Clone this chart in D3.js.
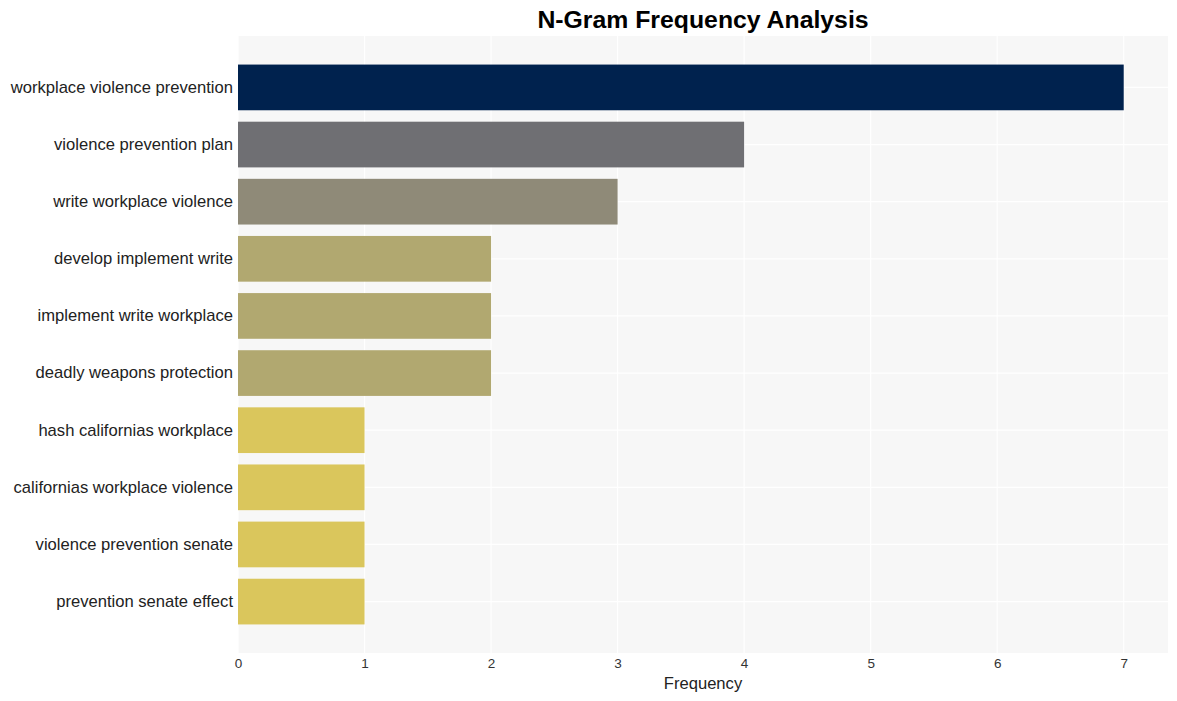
<!DOCTYPE html>
<html><head><meta charset="utf-8">
<script src="https://cdn.jsdelivr.net/npm/d3@7/dist/d3.min.js"></script>
<style>body{margin:0;background:#fff;} text{font-family:"Liberation Sans",Arial,sans-serif;}</style>
</head><body><svg id="c" width="1177" height="701"></svg>
<script>
const categories = ["workplace violence prevention","violence prevention plan","write workplace violence","develop implement write","implement write workplace","deadly weapons protection","hash californias workplace","californias workplace violence","violence prevention senate","prevention senate effect"];
const values = [7,4,3,2,2,2,1,1,1,1];
const xTicks = [0,1,2,3,4,5,6,7];
const colorByValue = {7:"#00224e",4:"#6f6f73",3:"#8f8a78",2:"#b1a870",1:"#dac65c"};

const svg = d3.select("#c");
const m = {left:238, right:1168, top:36, bottom:653};
const x = d3.scaleLinear().domain([0,7.35]).range([m.left,m.right]);
const y = d3.scaleBand().domain(categories).range([m.top,m.bottom]).paddingInner(0.2).paddingOuter(0.5);

svg.append("rect").attr("x",m.left).attr("y",m.top).attr("width",m.right-m.left).attr("height",m.bottom-m.top).attr("fill","#f7f7f7");
svg.append("g").selectAll("line").data(xTicks).join("line")
  .attr("x1",d=>x(d)).attr("x2",d=>x(d)).attr("y1",m.top).attr("y2",m.bottom)
  .attr("stroke","#fff").attr("stroke-width",1.2);
svg.append("g").selectAll("line").data(categories).join("line")
  .attr("y1",d=>y(d)+y.bandwidth()/2).attr("y2",d=>y(d)+y.bandwidth()/2).attr("x1",m.left).attr("x2",m.right)
  .attr("stroke","#fff").attr("stroke-width",1.2);

svg.append("g").selectAll("rect").data(categories).join("rect")
  .attr("x",x(0)).attr("y",d=>y(d)).attr("height",y.bandwidth())
  .attr("width",(d,i)=>x(values[i])-x(0)).attr("fill",(d,i)=>colorByValue[values[i]]);

const xa = svg.append("g").attr("transform",`translate(0,${m.bottom})`)
  .call(d3.axisBottom(x).tickValues(xTicks).tickSize(0).tickPadding(5).tickFormat(d3.format("d")));
xa.select(".domain").remove();
xa.selectAll("text").attr("font-size",13.5).attr("fill","#333").attr("font-family","Liberation Sans, Arial, sans-serif");

const ya = svg.append("g").attr("transform",`translate(${m.left},0)`)
  .call(d3.axisLeft(y).tickSize(0).tickPadding(5));
ya.select(".domain").remove();
ya.selectAll("text").attr("font-size",16.6).attr("fill","#222").attr("font-family","Liberation Sans, Arial, sans-serif");

svg.append("text").attr("x",(m.left+m.right)/2).attr("y",689).attr("text-anchor","middle")
  .attr("font-size",16.6).attr("fill","#222").text("Frequency");
svg.append("text").attr("x",(m.left+m.right)/2).attr("y",28).attr("text-anchor","middle")
  .attr("font-size",24.8).attr("font-weight","bold").attr("fill","#000").text("N-Gram Frequency Analysis");
</script></body></html>
